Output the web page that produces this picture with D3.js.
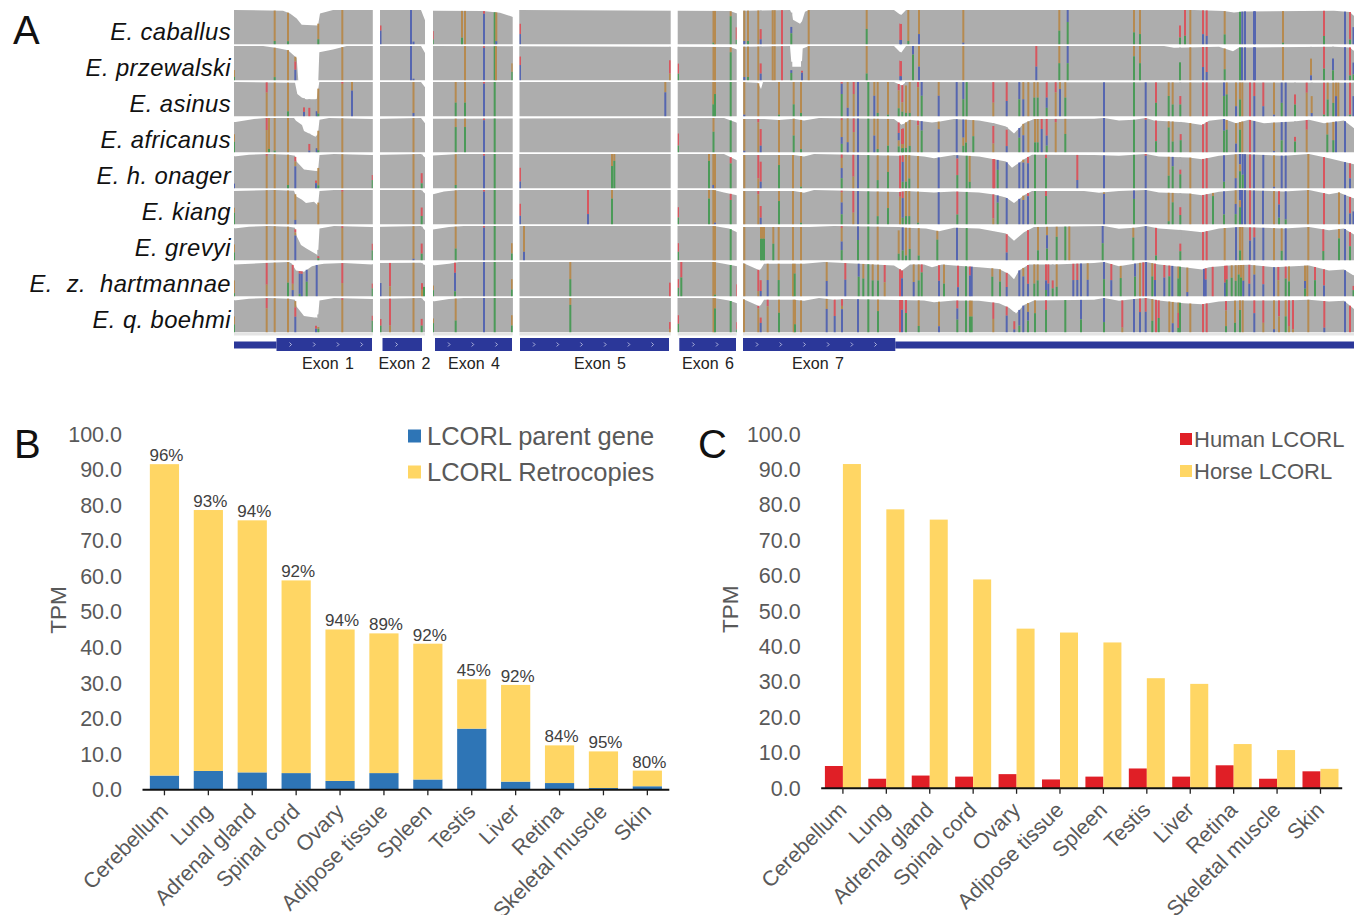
<!DOCTYPE html>
<html>
<head>
<meta charset="utf-8">
<style>
  html, body { margin: 0; background: #fff; }
  svg { display: block; font-family: "Liberation Sans", Arial, sans-serif; }
</style>
<script src="https://d3js.org/d3.v7.min.js"></script>
</head>
<body>
<svg id="fig" width="1364" height="915"></svg>
<script>
// panel A: exons along the transcript (position units from left end of the track)
const exonNames = ["Exon 1", "Exon 2", "Exon 4", "Exon 5", "Exon 6", "Exon 7"];
const exonStarts = [0, 146, 199, 285.5, 443.7, 509];
const exonEnds = [138.8, 191, 278.7, 436.7, 502.7, 1120];
const cdsStarts = [42.5, 148.5, 201, 286, 445.3, 509];
const cdsEnds = [138, 188, 278, 435, 502, 661.3];
const utrSpans = [[0, 42.5], [661.3, 1120]];
const exonLabelPos = [94, 170.5, 240, 366, 474, 584];

const species = ["E. caballus", "E. przewalski", "E. asinus", "E. africanus", "E. h. onager",
  "E. kiang", "E. grevyi", "E. z. hartmannae", "E. q. boehmi"];

// coverage: [position, depth fraction]
const covCaballus = [[0,1],[49,.98],[56,.9],[62.7,.75],[67.7,.57],[84,.55],[86,.9],[99,1],[187,1],[191,.7],[199,.98],[249,.97],[266,.92],[279,.8],[285,1],[496,.97],[503,.9],[509,.98],[556,1],[557.7,.9],[559,.72],[566,.6],[568,.67],[571,.95],[575,1],[660,1],[667,.85],[672,1],[960,1],[990,.97],[1000,.93],[1010,.96],[1100,.98],[1116,.94],[1120,.82]];
const covPrzewalski = [[0,1],[29,1],[43,.94],[54,.88],[62.7,.65],[64.3,0],[84.3,0],[85.3,.82],[99,.9],[112.7,1],[187,1],[191,.8],[199,1],[496,.97],[503,.9],[509,.98],[556,1],[557.7,.4],[567.7,.4],[568.7,.93],[575,1],[660,1],[667,.8],[672,1],[930,1],[940,.95],[952,.96],[985,.98],[999,.85],[1005,.96],[1100,.98],[1116,.96],[1120,.85]];
const covAsinus = [[0,1],[61,.98],[63.3,.65],[67.7,.55],[72,.5],[82.7,.5],[85.3,1],[187,1],[191,.85],[199,1],[509,1],[524,.98],[527,.8],[529,1],[660,1],[668,.9],[672,1],[1120,.98]];
const covAfricanus = [[0,.88],[20,.97],[32,1],[60,1],[62,.92],[68,.8],[70,.62],[82,.45],[84,.55],[85.5,.95],[95,1],[138,.97],[187,1],[191,.85],[199,.98],[490,1],[503,.86],[509,.97],[530,.97],[545,.94],[560,.98],[570,.93],[585,1],[660,.97],[668,.8],[676,.95],[690,.9],[698,.87],[706,.9],[720,.97],[745,.93],[760,.85],[772,.75],[780,.55],[790,.85],[800,.97],[860,.98],[870,1],[885,.93],[900,.95],[912,1],[920,.93],[950,.88],[968,.8],[975,.92],[990,.97],[1002,.85],[1015,.95],[1030,.85],[1060,.9],[1075,.95],[1090,.85],[1110,.93],[1120,.7]];
const covOnager = [[0,.93],[15,.98],[35,1],[55,.98],[61,.95],[62.5,.78],[70,.55],[84,.5],[85.5,.97],[100,1],[138,.97],[187,1],[191,.9],[199,.96],[225,1],[490,1],[503,.82],[509,.97],[560,.97],[570,.93],[580,1],[665,.95],[672,.97],[690,.93],[700,.88],[720,.97],[745,.93],[760,.85],[772,.78],[778,.6],[790,.85],[798,.98],[860,.97],[885,.95],[912,1],[925,.93],[955,.9],[968,.85],[985,.95],[1005,1],[1050,.95],[1075,1],[1095,.88],[1120,.7]];
const covKiang = [[0,.97],[40,1],[60,.98],[62,.82],[68,.72],[72,.62],[80,.66],[84,.55],[85.5,.97],[100,1],[187,1],[191,.9],[199,.88],[210,.96],[225,1],[480,1],[490,.93],[503,.85],[509,.97],[560,.97],[570,.92],[580,1],[665,.94],[672,.97],[700,.93],[720,.96],[745,.93],[760,.87],[772,.78],[780,.62],[790,.85],[798,.97],[850,.97],[865,.92],[885,.97],[912,1],[925,.93],[955,.9],[968,.85],[985,.95],[1005,1],[1050,.96],[1075,1],[1095,.88],[1105,.93],[1120,.75]];
const covGrevyi = [[0,.93],[15,.98],[35,1],[55,.98],[61,.95],[62.5,.72],[67,.45],[72,.35],[84,.15],[85.5,.93],[100,1],[138,.97],[187,1],[191,.88],[199,.9],[215,.97],[230,1],[480,1],[495,.93],[503,.82],[509,.97],[575,.97],[600,1],[665,.97],[672,.95],[692,.93],[705,.85],[720,.95],[745,.93],[760,.85],[772,.78],[780,.57],[790,.82],[800,.97],[870,1],[885,.92],[900,.95],[912,1],[925,.93],[950,.88],[968,.82],[985,.93],[1005,.97],[1050,.93],[1075,.97],[1095,.88],[1110,.93],[1120,.75]];
const covHartmannae = [[0,.93],[30,.97],[55,1],[58,.95],[62,.75],[70,.72],[78,.88],[85,.93],[90,.95],[110,.97],[138,.93],[146,.97],[187,.98],[191,.9],[199,.9],[215,.95],[225,1],[480,1],[490,.95],[503,.88],[509,.97],[526,.75],[530,.95],[570,.95],[590,1],[660,.9],[668,.75],[676,.93],[690,.93],[698,.85],[708,.93],[720,.9],[745,.85],[765,.8],[775,.65],[780,.5],[785,.75],[795,.93],[820,.93],[860,.97],[870,1],[885,.88],[900,.95],[912,1],[925,.93],[950,.85],[968,.78],[975,.85],[995,.9],[1015,.92],[1040,.85],[1075,.9],[1095,.75],[1110,.78],[1120,.6]];
const covBoehmi = [[0,.93],[15,.98],[35,1],[55,.98],[61,.95],[62.5,.75],[70,.48],[84,.42],[85.5,.93],[100,1],[138,.97],[187,1],[191,.9],[199,.9],[215,.97],[230,1],[480,1],[495,.93],[503,.85],[509,.97],[526,.75],[530,.95],[560,.95],[570,.92],[585,1],[600,.95],[612,.97],[690,.93],[700,.88],[720,.93],[745,.92],[765,.85],[775,.72],[782,.55],[790,.8],[800,.93],[860,.95],[870,1],[885,.92],[900,.97],[912,1],[925,.93],[950,.85],[968,.82],[985,.9],[1005,.93],[1050,.93],[1075,.95],[1095,.9],[1110,.92],[1120,.68]];

// variants: [position, top-down read stack: G orange, A green, C blue, T red, N reference]
const varCaballus = [[40.7,"G90A10"],[54,"G90A10"],[84.3,"G75A25"],[108.3,"G"],[146.5,"N45T15C40"],[177,"C"],[179.5,"N92C8"],[198.7,"N60T25A15"],[228,"G80A20"],[231,"G"],[250,"T8C92"],[260.7,"A"],[262.3,"G90C10"],[286,"N40T30C30"],[479.5,"G95A5"],[481,"G"],[496.7,"G15A85"],[502.7,"N45T40A15"],[510.3,"G90C10"],[514,"G90A10"],[524.3,"G"],[526.7,"N55T30C15"],[538.7,"G"],[540.7,"G"],[548,"T"],[557.3,"N45C20A35"],[574.7,"G"],[632.7,"G55A45"],[666.3,"N30T55C15"],[667,"N30T55C15"],[674.3,"G90A10"],[685,"G70C30"],[729.3,"G95C5"],[825.3,"G60A40"],[833.7,"C35A65"],[900,"G65A35"],[906,"G70A30"],[946,"N45T35A20"],[951,"T75A25"],[956.3,"G"],[969,"T70C30"],[972.7,"T75C25"],[990.7,"G70A30"],[1006,"A"],[1008.3,"C"],[1011,"C"],[1020,"C"],[1021,"C"],[1049,"G95A5"],[1090,"T75A25"],[1111,"C"],[1116,"T85A15"],[1119.5,"N40C60"]];
const varPrzewalski = [[0,"N70G20A10"],[40.7,"G90A10"],[54,"G"],[61.3,"G20T35C45"],[84.3,"G"],[108.3,"G"],[177,"C"],[179.5,"N95C5"],[231,"G"],[250,"T5C95"],[260.7,"A"],[262,"G"],[278.3,"N50G25A25"],[286,"N30T25C45"],[436,"N40T40G20"],[444,"N50T30A20"],[479.5,"G"],[481,"G"],[496.7,"G15A85"],[510.3,"G90C10"],[514,"G90A10"],[524.3,"G"],[526.7,"N50T30C20"],[538.7,"G"],[540.7,"G"],[548,"T"],[557.3,"N45C15A40"],[568,"N50T10C40"],[574.7,"G"],[632.7,"G80A20"],[666.3,"N30T55C15"],[667,"N30T55C15"],[679,"C25A75"],[685,"G60C40"],[729.3,"G"],[802.3,"T60C40"],[825.3,"G50A50"],[833.7,"C50A50"],[900,"G30A70"],[906,"G50A50"],[946,"N45A55"],[956.3,"G"],[969,"T60C40"],[972.7,"T75C25"],[990.7,"G65A35"],[1006,"A"],[1008,"C"],[1011,"C"],[1020,"C"],[1021,"C"],[1049,"G"],[1077,"N35G50C15"],[1090,"T65A35"],[1099,"N35C35A30"],[1111,"C"],[1116,"T85A15"],[1119.5,"N40C40A20"]];
const varAsinus = [[32.7,"T30G70"],[40.7,"G"],[54,"G85A15"],[70,"N50T25C25"],[75.3,"N50T50"],[82.7,"N70C30"],[84.3,"G90A10"],[108.3,"T5G95"],[118,"G25C75"],[179.5,"G90C10"],[221.7,"G60A40"],[231,"G60A40"],[250,"T5C95"],[260.7,"A"],[431.3,"G30C70"],[479.3,"G65A35"],[481,"G35A65"],[496.7,"A"],[510.3,"G95C5"],[524.3,"G"],[545,"G95A5"],[559.7,"G65A35"],[567,"G90A10"],[607.7,"T5C30A65"],[613.7,"G75C25"],[619.7,"T35G65"],[624,"C"],[634.3,"A"],[640.3,"G40C60"],[643.7,"G90A10"],[654,"G95A5"],[664.7,"T20G55A25"],[668.3,"T55G30A15"],[672,"N10G80A10"],[675.7,"G90A10"],[684,"T15G85"],[687.7,"C40A60"],[704.7,"G40C60"],[722.7,"C"],[729.3,"C50A50"],[732.7,"A"],[759.3,"T60G40"],[772.7,"T55C45"],[785.3,"C50A50"],[789.3,"G50C50"],[794.3,"G"],[800.3,"G45A55"],[803.7,"G45A55"],[812.7,"T45C30A25"],[821.7,"T30G70"],[826,"G20C80"],[831.3,"G45A55"],[870,"C"],[900,"A"],[911.7,"C"],[922,"T60A40"],[934.7,"G40A60"],[938.7,"G65A35"],[946.3,"N40T25A35"],[956.3,"G"],[969,"T"],[972.7,"T"],[990,"C40A60"],[992.7,"G35A65"],[1002,"G70C30"],[1006,"G50A50"],[1008.3,"G"],[1016,"T"],[1020.3,"T40C60"],[1029.3,"T70C30"],[1040,"G95C5"],[1047.7,"C60A40"],[1051.7,"C"],[1061,"N35T30A35"],[1072.7,"T30G70"],[1077.7,"N40G50C10"],[1090,"T95A5"],[1093.7,"G50A50"],[1099.3,"G60A40"],[1102,"G40C60"],[1104.3,"G"],[1111,"C"],[1116,"T95A5"],[1119.5,"N40C60"]];
const varAfricanus = [[0,"N40G25A35"],[32.7,"T35G65"],[35,"G90A10"],[40.7,"G95A5"],[54,"G"],[75.3,"N55T35C10"],[82.7,"N75C25"],[84.3,"G90A10"],[108.3,"G"],[179.5,"G"],[221.7,"G25A75"],[231,"G25A75"],[250,"T5C95"],[260.7,"A"],[444,"N45T35A20"],[479.5,"G40A60"],[496.7,"A"],[510.3,"G95C5"],[524.3,"T10G90"],[526.7,"N30T50C20"],[545,"G"],[559.7,"G50A50"],[567,"G90A10"],[607.7,"T5G50C20A25"],[613.7,"G70C30"],[619.7,"T40G60"],[624,"C"],[634.3,"A"],[640.3,"G50C50"],[643.7,"G90A10"],[654,"G80A20"],[664.7,"T35C25G20A20"],[668,"N15T55G15A15"],[669,"N15T55G15A15"],[672,"G85A15"],[675.7,"G80A20"],[684,"T15G85"],[687.7,"C30A70"],[704.7,"G25C75"],[722.7,"C"],[729.3,"C55G25A20"],[732,"G70A30"],[739.3,"G50A50"],[759.3,"N10T60G30"],[772.7,"N10T65C25"],[785.3,"C40A60"],[789.3,"G40C60"],[794.3,"G"],[801,"G70A30"],[803.7,"G70A30"],[807.7,"T30C70"],[812.7,"T50C30A20"],[821.7,"T10G90"],[831.3,"G45A55"],[870,"C"],[900,"A"],[911.7,"T5C95"],[922,"T65A35"],[934.7,"G20A80"],[938.7,"G65A35"],[946.7,"N40T20A40"],[956.3,"G"],[969,"T"],[972.7,"T"],[990,"C35A65"],[992.7,"G30A70"],[1002,"G70C30"],[1006,"G25A75"],[1008.3,"G"],[1016,"T"],[1020.3,"C"],[1040,"G95C5"],[1047.7,"C60A40"],[1051.7,"C"],[1061,"N50T15A35"],[1072.7,"T30G70"],[1093.3,"G40A60"],[1099.3,"G60A40"],[1102,"C"],[1111,"C"]];
const varOnager = [[0,"N85C15"],[32.7,"T5G95"],[40.7,"G"],[54,"G90A10"],[61.3,"T15G15C70"],[82,"N55T15C30"],[84.3,"G85A15"],[108.3,"G"],[138.7,"N60T15A25"],[179.5,"G"],[187.7,"N55T30A15"],[221.7,"G90A10"],[250,"T5C95"],[260.7,"A"],[286,"N40T40C20"],[378,"G35A65"],[380.3,"G20A80"],[475,"G20A80"],[479.3,"G90C10"],[481,"G"],[496.7,"T20A80"],[510.3,"G"],[524.3,"T70G30"],[526.7,"N20T60C20"],[545,"G30A70"],[559,"G"],[567,"G95A5"],[607.7,"T10G30C30A30"],[619.3,"T65G35"],[624,"C"],[634.3,"A"],[643.7,"G75A25"],[654,"G50A50"],[666,"T"],[668.7,"T20C60A20"],[672,"G80A20"],[675.3,"G70A30"],[684,"G"],[704.7,"C"],[723.3,"C10T50A40"],[732.7,"A"],[735.7,"G80A20"],[759.3,"T"],[760.3,"T"],[763.7,"C35A65"],[772.7,"C"],[785.3,"C"],[789.3,"G10C90"],[794,"T20C80"],[801,"A"],[812,"T10A90"],[843.3,"T75C25"],[870,"C"],[900,"A"],[911.7,"T5C95"],[934.7,"G60A40"],[938.7,"C30A70"],[946.3,"N40T15A45"],[956.3,"G"],[969,"T"],[972.7,"T"],[990,"C80A20"],[1001.7,"G70C30"],[1006,"C30G20A50"],[1008.7,"C60A40"],[1011,"C"],[1016,"T"],[1020,"C"],[1029.3,"C"],[1040,"G95C5"],[1047.7,"C"],[1051.7,"C"],[1074.3,"G"],[1090,"T"],[1111,"C"],[1116,"T60C40"]];
const varKiang = [[0,"N50G15A35"],[32.7,"G"],[40.7,"G"],[54,"G"],[61.3,"G85C15"],[84.3,"G"],[108.3,"T5G95"],[179.5,"G"],[187.7,"N50T25A25"],[221.7,"G"],[250,"T5C95"],[260.7,"A"],[286,"N40T35C25"],[354,"T70C30"],[378,"G25A75"],[444,"N50T30A20"],[475,"G25A75"],[479.3,"G"],[481,"G95C5"],[496.7,"T20A80"],[510.3,"G"],[524.3,"T10G90"],[526.7,"N45T35C20"],[545,"G30A70"],[559,"G"],[567,"G95A5"],[607.7,"T5G30C35A30"],[619.3,"T65G35"],[624,"C"],[634.3,"A"],[643.7,"G75A25"],[654,"G50A50"],[666,"T15G85"],[668.7,"T20C60A20"],[672,"G75A25"],[675.3,"G75A25"],[684,"G95A5"],[704.7,"C"],[723.3,"T70A30"],[732.7,"A"],[759.3,"T80G20"],[763.7,"C25A75"],[772.7,"C"],[785.3,"C"],[789.3,"G15C85"],[794,"T10C90"],[801,"A"],[812,"T15A85"],[870,"G5C95"],[900,"C25A75"],[911.7,"C"],[934.7,"G90A10"],[938.7,"G30A70"],[946.3,"N45T25A30"],[956.3,"G"],[969,"T"],[972.7,"T"],[979,"G10A90"],[990,"C70A30"],[1001.7,"G40C30A30"],[1006,"C30G20A50"],[1008,"C"],[1011,"C"],[1016,"T"],[1020,"C"],[1029,"C"],[1040,"G"],[1045,"T40C40A20"],[1051.7,"C85A15"],[1074,"G"],[1090,"T"],[1105,"G"],[1111,"C"],[1116,"T60C40"],[1119.5,"N50C50"]];
const varGrevyi = [[0,"N50G25A25"],[32.7,"G"],[40.7,"G"],[54,"G"],[61.3,"T10G10C80"],[84.3,"N60T20A20"],[108.3,"T5G95"],[138.7,"N50T20A30"],[179.5,"G95C5"],[187.7,"N50T30A20"],[221.7,"G65A35"],[250,"T5C95"],[260.7,"A"],[278,"N50G30A20"],[290,"G75C25"],[444,"N50T25A25"],[479.5,"G"],[481,"G"],[496.7,"A"],[510.3,"G"],[527,"G35A65"],[528.5,"G35A65"],[530,"G35A65"],[539.3,"G50A50"],[544.7,"G"],[559,"G"],[567,"G"],[607.7,"T5G40C25A30"],[624,"C40A60"],[634.3,"A"],[643.7,"G"],[664.7,"N10G70A20"],[668.7,"C70A30"],[672,"G85A15"],[675.7,"G65A35"],[684.7,"G85A15"],[703.3,"G30A70"],[723,"C"],[732.7,"A"],[772.7,"T70C30"],[794,"T"],[804,"G70A30"],[813,"G25C40A35"],[822.7,"G30A70"],[831.3,"A"],[835.3,"G"],[868.7,"C50A50"],[899.3,"G30A70"],[911.7,"C"],[922,"T85A15"],[946.3,"N45T25A30"],[969,"T"],[972.7,"T"],[990.7,"G"],[1002,"C"],[1006,"G70A30"],[1008.3,"G"],[1016,"T40C60"],[1020.3,"T30C70"],[1029.3,"C"],[1040,"G"],[1047.7,"G70A30"],[1051.7,"C"],[1074.3,"G"],[1089.3,"T70A30"],[1105,"G30A70"],[1111,"C"],[1116,"T50A50"]];
const varHartmannae = [[0,"N50G40A10"],[32.7,"T65G35"],[40.7,"G"],[54,"G60A40"],[58.7,"T60G20C20"],[65.7,"T10C80A10"],[67.7,"T10C90"],[72.7,"C45A55"],[82.7,"C"],[108.3,"T60G40"],[138.7,"N60T15A25"],[146.5,"N60C40"],[156,"T70G30"],[179.5,"G"],[188,"N60T20G20"],[190,"N70A30"],[199,"N65G15A20"],[221,"T30C55A15"],[250,"C"],[260.7,"A"],[278,"N50G30A20"],[336.3,"G50A50"],[436,"N60T40"],[444,"N50T25A25"],[447.3,"T45A55"],[479.3,"G"],[481,"G95A5"],[496.7,"A"],[503,"N60T40"],[510.3,"G"],[524.3,"T80G20"],[526.7,"N40T40C20"],[533.7,"G50C50"],[544.7,"G50A50"],[559,"G"],[560.7,"G30A70"],[567,"G"],[592.7,"G55C45"],[611.3,"T50C50"],[624.7,"C40A60"],[629.3,"G45A55"],[634.3,"A"],[638.7,"G50A50"],[644,"G50A50"],[650.7,"T55G45"],[666,"T"],[668,"T30C70"],[679.7,"G55C45"],[684.7,"G50A50"],[687.7,"T25A75"],[705,"T50C50"],[710,"G60A40"],[724,"T70C30"],[732,"A"],[736,"T30C70"],[737.7,"C"],[758.3,"G30A70"],[766,"G45A55"],[772.7,"T60C40"],[785.3,"C"],[789.3,"G30C70"],[794,"T60C40"],[800.3,"G60A40"],[803.7,"G50A50"],[812,"T50C30A20"],[814.3,"T60C40"],[818.7,"N50T25A25"],[822.7,"G70A30"],[839.3,"T50C50"],[843.3,"T50C50"],[847,"C"],[853.7,"G50C50"],[870,"C50A50"],[877.3,"T50C50"],[886.7,"G40A60"],[901,"C40A60"],[906,"G"],[909.3,"T"],[912,"C"],[918.3,"G40A60"],[921,"T50C50"],[930.3,"T40C60"],[935.3,"T35A65"],[938.3,"C"],[944.3,"G40A60"],[946,"A"],[953.3,"G85C15"],[970,"C"],[971.7,"T40C60"],[978.7,"T"],[991,"T55C45"],[992.7,"T45A55"],[997.7,"G40A60"],[1001.7,"G50A50"],[1004.7,"G30A70"],[1007,"G40A60"],[1009.3,"G50C50"],[1015.3,"T60C40"],[1020.3,"G30C70"],[1029.3,"T60C40"],[1040,"C"],[1044.3,"T45G55"],[1051.7,"T40A60"],[1055,"G50A50"],[1071,"G50C25A25"],[1073.3,"G"],[1081,"T45A55"],[1090,"T60C40"],[1111,"C"],[1119.5,"N50T20A30"]];
const varBoehmi = [[0,"N50G25A25"],[32.7,"T30G70"],[40.7,"G"],[54,"G"],[61.3,"G20T30C50"],[82,"N55T20C25"],[84.3,"N70G10A20"],[108.3,"T5G95"],[138.7,"N50T15A35"],[146.5,"N60T20A20"],[156,"T80G20"],[179.5,"G"],[187.7,"N60T20A20"],[199,"N55G15A30"],[221.7,"G65A35"],[250,"C"],[260.7,"A"],[278,"N50G30A20"],[336.3,"G20A80"],[436,"N70T20G10"],[444,"N50T25A25"],[479.5,"G"],[481,"G30A70"],[496.7,"A"],[503,"N65T25A10"],[510,"G"],[524.3,"T10G90"],[526.7,"N45T20C35"],[533.7,"T20G80"],[545,"G40A60"],[559.7,"G"],[561,"G75A25"],[567,"G"],[592.7,"G30C70"],[600.7,"T50C50"],[608,"T20G10C70"],[624,"C"],[634.3,"A"],[644,"G35A65"],[666,"T"],[668,"T30C70"],[672,"T40A60"],[684.7,"G80A20"],[705,"G80C20"],[723.3,"T25C35A40"],[732,"A"],[736,"G50A50"],[737.7,"G50A50"],[759.3,"T55G45"],[772.7,"T35C65"],[780.3,"N45T40C15"],[785.3,"C70A30"],[789.3,"C"],[794,"G30C30A40"],[801,"G40A60"],[812,"T30A70"],[831.3,"A"],[847,"C60A40"],[870,"C70A30"],[888.3,"T85G15"],[900,"C"],[906,"T40C60"],[911.7,"T40C60"],[918.3,"G65A35"],[922,"T"],[924.7,"T55A45"],[935.3,"G"],[938.7,"G70C30"],[944.3,"G35T50A15"],[946,"A"],[956.3,"G"],[969,"T"],[972.7,"T"],[992,"T30G50A20"],[1001,"G70A30"],[1006,"G30A70"],[1008.7,"G"],[1020.3,"T40C60"],[1029.3,"T70G30"],[1040,"G90C10"],[1045,"T50G50"],[1051.7,"G50A50"],[1055,"T80G20"],[1059,"T90G10"],[1074.3,"G"],[1090.3,"T85C15"],[1111,"C"],[1116,"T"]];

const coverages = [covCaballus, covPrzewalski, covAsinus, covAfricanus, covOnager, covKiang, covGrevyi, covHartmannae, covBoehmi];
const variants = [varCaballus, varPrzewalski, varAsinus, varAfricanus, varOnager, varKiang, varGrevyi, varHartmannae, varBoehmi];

// panels B and C
const tissues = ["Cerebellum", "Lung", "Adrenal gland", "Spinal cord", "Ovary", "Adipose tissue",
  "Spleen", "Testis", "Liver", "Retina", "Skeletal muscle", "Skin"];
const parentGene = [4.0, 5.3, 4.9, 4.7, 2.5, 4.7, 2.9, 17.2, 2.3, 1.9, 0.5, 1.0];
const retrocopies = [87.6, 73.4, 70.9, 54.2, 42.6, 39.3, 38.2, 13.9, 27.2, 10.6, 10.3, 4.4];
const percentLabels = ["96%", "93%", "94%", "92%", "94%", "89%", "92%", "45%", "92%", "84%", "95%", "80%"];
const humanLcorl = [6.3, 2.7, 3.6, 3.3, 4.0, 2.5, 3.3, 5.6, 3.3, 6.5, 2.7, 4.8];
const horseLcorl = [91.6, 78.8, 75.9, 59.0, 45.1, 44.0, 41.2, 31.1, 29.5, 12.5, 10.8, 5.5];
const yTicks = [0, 10, 20, 30, 40, 50, 60, 70, 80, 90, 100];

const baseColors = { G: "#b68a50", A: "#4b9a58", C: "#5666b0", T: "#d8565e", N: "#adadad" };
const yellow = "#ffd664";
const blue = "#2e75b6";
const red = "#e01f26";
const tickGrey = "#595959";

const svg = d3.select("#fig");

// panel letters
svg.selectAll("text.letter")
  .data([["A", 13, 44], ["B", 14, 458], ["C", 698, 458]])
  .join("text")
  .attr("class", "letter")
  .attr("x", (d) => d[1])
  .attr("y", (d) => d[2])
  .attr("font-size", 40)
  .attr("fill", "#111")
  .text((d) => d[0]);

// ---- panel A ----
const xGene = d3.scaleLinear().domain([0, 1120]).range([234, 1354]);
const rowScale = d3.scaleBand().domain(species).range([10, 334]).paddingInner(0);
const rowH = rowScale.bandwidth() - 1.6;
const yDepth = d3.scaleLinear().domain([0, 1]).range([rowH, 0]);

svg.append("defs").append("clipPath").attr("id", "exon-clip")
  .selectAll("rect")
  .data(exonNames)
  .join("rect")
  .attr("x", (d, i) => xGene(exonStarts[i]))
  .attr("width", (d, i) => xGene(exonEnds[i]) - xGene(exonStarts[i]))
  .attr("y", 0)
  .attr("height", rowH);

const area = d3.area()
  .x((d) => xGene(d[0]))
  .y0(yDepth(0))
  .y1((d) => yDepth(d[1]));

const depthAt = (profile, pos) => {
  const i = d3.bisector((d) => d[0]).left(profile, pos);
  if (i <= 0) return profile[0][1];
  if (i >= profile.length) return profile[profile.length - 1][1];
  const a = profile[i - 1];
  const b = profile[i];
  return a[1] + ((b[1] - a[1]) * (pos - a[0])) / (b[0] - a[0]);
};

const parseStack = (code) => {
  const parts = [...code.matchAll(/([GATCN])(\d*)/g)];
  let acc = 0;
  return parts.map((m) => {
    const share = m[2] ? +m[2] / 100 : 1;
    const seg = { base: m[1], from: acc, to: acc + share };
    acc += share;
    return seg;
  });
};

const rows = svg.selectAll("g.row")
  .data(species)
  .join("g")
  .attr("class", "row")
  .attr("transform", (d) => `translate(0,${rowScale(d)})`);

rows.append("text")
  .attr("x", 231)
  .attr("y", rowH / 2 + 13)
  .attr("text-anchor", "end")
  .attr("font-size", 23.8)
  .attr("font-style", "italic")
  .attr("letter-spacing", 0.4)
  .attr("word-spacing", (d) => (d === "E. z. hartmannae" ? 7 : 0))
  .attr("fill", "#111")
  .text((d) => d);

rows.each(function (d, i) {
  const g = d3.select(this).append("g").attr("clip-path", "url(#exon-clip)");
  const profile = coverages[i];
  g.append("path").attr("d", area(profile)).attr("fill", "#adadad");
  variants[i].forEach((v) => {
    const top = yDepth(depthAt(profile, v[0]));
    parseStack(v[1]).forEach((seg) => {
      g.append("rect")
        .attr("x", xGene(v[0]) - 1)
        .attr("width", 2)
        .attr("y", top + seg.from * (rowH - top))
        .attr("height", (seg.to - seg.from) * (rowH - top))
        .attr("fill", baseColors[seg.base]);
    });
  });
});

// band under the last track
svg.selectAll("rect.band")
  .data(exonNames)
  .join("rect")
  .attr("class", "band")
  .attr("x", (d, i) => xGene(exonStarts[i]))
  .attr("width", (d, i) => xGene(exonEnds[i]) - xGene(exonStarts[i]))
  .attr("y", rowScale.range()[1] - 1)
  .attr("height", 2.5)
  .attr("fill", "#e4e4e4");

// gene model
const gene = svg.append("g");
const geneBlue = "#2b3799";
gene.selectAll("rect.utr")
  .data(utrSpans)
  .join("rect")
  .attr("x", (d) => xGene(d[0]))
  .attr("width", (d) => xGene(d[1]) - xGene(d[0]))
  .attr("y", 341.5)
  .attr("height", 7)
  .attr("fill", geneBlue);
gene.selectAll("rect.cds")
  .data(exonNames)
  .join("rect")
  .attr("x", (d, i) => xGene(cdsStarts[i]))
  .attr("width", (d, i) => xGene(cdsEnds[i]) - xGene(cdsStarts[i]))
  .attr("y", 338)
  .attr("height", 13)
  .attr("fill", geneBlue);

const chevronStep = 23.7;
exonNames.forEach((name, i) => {
  const marks = d3.range(cdsStarts[i] + 14, cdsEnds[i] - 3, chevronStep);
  gene.selectAll(null)
    .data(marks)
    .join("path")
    .attr("d", (m) => `M${xGene(m) - 1},342.5l2,2l-2,2`)
    .attr("fill", "none")
    .attr("stroke", "#cfd3ee")
    .attr("stroke-width", 0.8);
});

svg.selectAll("text.exon")
  .data(exonNames)
  .join("text")
  .attr("class", "exon")
  .attr("x", (d, i) => xGene(exonLabelPos[i]))
  .attr("y", 369)
  .attr("text-anchor", "middle")
  .attr("font-size", 16)
  .attr("word-spacing", 2)
  .attr("fill", "#222")
  .text((d) => d);

// ---- shared bar chart parts ----
function drawAxes(g, x, y, width, height, tpmX) {
  const yAxis = d3.axisLeft(y)
    .tickValues(yTicks)
    .tickFormat(d3.format(".1f"))
    .tickSize(0)
    .tickPadding(0);
  const yg = g.append("g").attr("transform", "translate(-20.5,0)").call(yAxis);
  yg.select(".domain").remove();
  yg.selectAll("text").attr("font-size", 21.5).attr("font-family", "Liberation Sans").attr("fill", tickGrey);

  const xAxis = d3.axisBottom(x).tickSize(5.5).tickFormat("");
  const xg = g.append("g").attr("transform", `translate(0,${height})`).call(xAxis);
  xg.select(".domain").attr("stroke", "#111").attr("stroke-width", 2).attr("d", `M0,0H${width}`);
  xg.selectAll(".tick line").attr("stroke", "#222").attr("stroke-width", 1.3);

  g.selectAll("text.tissue")
    .data(tissues)
    .join("text")
    .attr("class", "tissue")
    .attr("text-anchor", "end")
    .attr("font-size", 21.5)
    .attr("fill", tickGrey)
    .attr("transform", (d) => `translate(${x(d) + x.bandwidth() / 2 + 5},${height + 23}) rotate(-45)`)
    .text((d) => d);

  g.append("text")
    .attr("transform", `translate(${tpmX},${y(50) - 2}) rotate(-90)`)
    .attr("text-anchor", "middle")
    .attr("font-size", 22.5)
    .attr("fill", tickGrey)
    .text("TPM");
}

function drawLegend(items, swatchX, textX, size, swatch, rowYs) {
  items.forEach((item, i) => {
    svg.append("rect")
      .attr("x", swatchX)
      .attr("y", rowYs[i] - swatch / 2)
      .attr("width", swatch)
      .attr("height", swatch)
      .attr("fill", item[1]);
    svg.append("text")
      .attr("x", textX)
      .attr("y", rowYs[i] + size * 0.35)
      .attr("font-size", size)
      .attr("fill", tickGrey)
      .text(item[0]);
  });
}

// ---- panel B ----
const bWidth = 526.8;
const bHeight = 355.5;
const gB = svg.append("g").attr("transform", "translate(142.5,434.3)");
const xB = d3.scaleBand().domain(tissues).range([0, bWidth]).paddingInner(0.335).paddingOuter(0.1675);
const yB = d3.scaleLinear().domain([0, 100]).range([bHeight, 0]);

const stackRows = tissues.map((t, i) => ({ tissue: t, parent: parentGene[i], retro: retrocopies[i] }));
const stacked = d3.stack().keys(["parent", "retro"])(stackRows);
const stackColor = { parent: blue, retro: yellow };

gB.selectAll("g.layer")
  .data(stacked)
  .join("g")
  .attr("class", "layer")
  .attr("fill", (d) => stackColor[d.key])
  .selectAll("rect")
  .data((d) => d)
  .join("rect")
  .attr("x", (d) => xB(d.data.tissue))
  .attr("width", xB.bandwidth())
  .attr("y", (d) => yB(d[1]))
  .attr("height", (d) => yB(d[0]) - yB(d[1]));

gB.selectAll("text.pct")
  .data(stackRows)
  .join("text")
  .attr("class", "pct")
  .attr("x", (d) => xB(d.tissue) + xB.bandwidth() / 2 + 2)
  .attr("y", (d) => yB(d.parent + d.retro) - 3)
  .attr("text-anchor", "middle")
  .attr("font-size", 17)
  .attr("fill", "#404040")
  .text((d, i) => percentLabels[i]);

drawAxes(gB, xB, yB, bWidth, bHeight, -77);
drawLegend([["LCORL parent gene", blue], ["LCORL Retrocopies", yellow]], 408, 427, 25.5, 13, [436, 472]);

// ---- panel C ----
const cWidth = 521;
const cHeight = 354;
const gC = svg.append("g").attr("transform", "translate(821.2,434.3)");
const xC = d3.scaleBand().domain(tissues).range([0, cWidth]);
const xInner = d3.scaleBand().domain(["human", "horse"]).range([0, 36]);
const yC = d3.scaleLinear().domain([0, 100]).range([cHeight, 0]);
const offsetC = (xC.bandwidth() - 36) / 2;

gC.selectAll("rect.human")
  .data(humanLcorl)
  .join("rect")
  .attr("x", (d, i) => xC(tissues[i]) + offsetC + xInner("human"))
  .attr("width", xInner.bandwidth())
  .attr("y", (d) => yC(d))
  .attr("height", (d) => cHeight - yC(d))
  .attr("fill", red);
gC.selectAll("rect.horse")
  .data(horseLcorl)
  .join("rect")
  .attr("x", (d, i) => xC(tissues[i]) + offsetC + xInner("horse"))
  .attr("width", xInner.bandwidth())
  .attr("y", (d) => yC(d))
  .attr("height", (d) => cHeight - yC(d))
  .attr("fill", yellow);

drawAxes(gC, xC, yC, cWidth, cHeight, -83);
drawLegend([["Human LCORL", red], ["Horse LCORL", yellow]], 1180, 1194, 22, 12, [439, 471]);
</script>
</body>
</html>
